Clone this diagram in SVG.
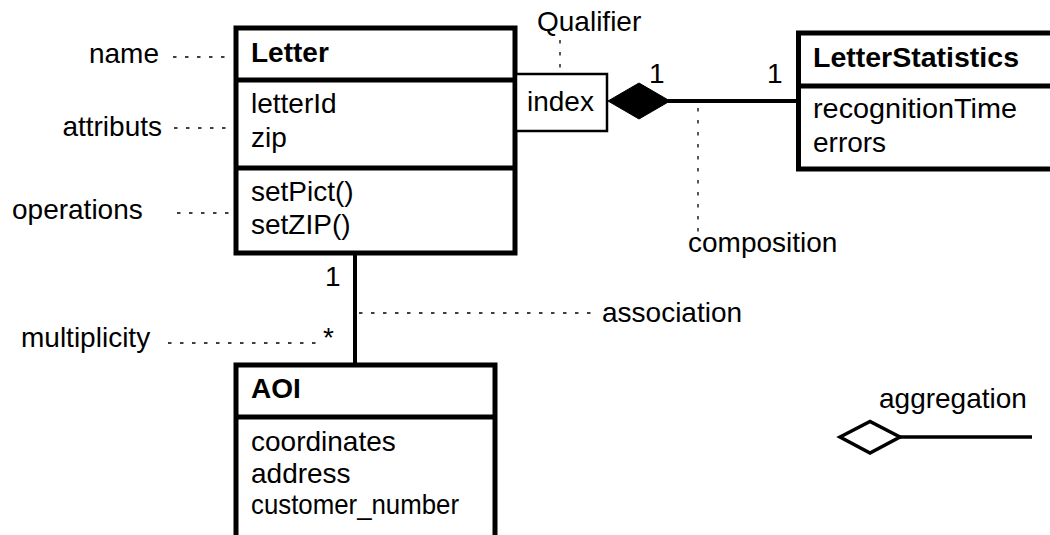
<svg xmlns="http://www.w3.org/2000/svg" width="1050" height="535" viewBox="0 0 1050 535">
<style>
text{font-family:"Liberation Sans",Arial,sans-serif;font-size:28px;fill:#000}
.b{font-weight:bold}
.box{fill:#fff;stroke:#000;stroke-width:5}
.div{stroke:#000;stroke-width:5}
.ln{stroke:#000;stroke-width:4;fill:none}
.dot{stroke:#000;stroke-width:1.3;stroke-dasharray:3.5 8.5;fill:none}
</style>
<rect width="1050" height="535" fill="#fff"/>
<g id="connectors">
<line class="ln" x1="355" y1="253" x2="355" y2="365"/>
<line class="ln" x1="668" y1="101" x2="798" y2="101"/>
<polygon points="608,101 639,83 670,101 639,119" fill="#000" stroke="#000" stroke-width="1"/>
<text x="649" y="83">1</text>
<text x="767" y="83">1</text>
<text x="325" y="286">1</text>
<text x="323" y="347">*</text>
</g>
<g id="annotations">
<text x="159" y="63" text-anchor="end">name</text>
<line class="dot" x1="173" y1="57" x2="226" y2="57"/>
<text x="162" y="136" text-anchor="end">attributs</text>
<line class="dot" x1="174" y1="128" x2="227" y2="128"/>
<text x="12" y="219">operations</text>
<line class="dot" x1="177" y1="213" x2="230" y2="213"/>
<text x="21" y="347">multiplicity</text>
<line class="dot" x1="168" y1="343" x2="320" y2="343"/>
<text x="537" y="31">Qualifier</text>
<line class="dot" x1="560" y1="40" x2="560" y2="92"/>
<text x="688" y="252">composition</text>
<line class="dot" x1="698" y1="108" x2="698" y2="238"/>
<text x="602" y="322">association</text>
<line class="dot" x1="359" y1="313" x2="595" y2="313"/>
</g>
<g id="aggregation">
<text x="879" y="408">aggregation</text>
<polygon points="840,437 870,421.5 900,437 870,453" fill="#fff" stroke="#000" stroke-width="3.5"/>
<line x1="900" y1="437" x2="1032" y2="437" stroke="#000" stroke-width="3.5"/>
</g>
<g id="Letter">
<rect class="box" x="236" y="28" width="279" height="225"/>
<line class="div" x1="236" y1="80" x2="515" y2="80"/>
<line class="div" x1="236" y1="168" x2="515" y2="168"/>
<text class="b" x="251" y="62">Letter</text>
<text x="251" y="113">letterId</text>
<text x="251" y="147">zip</text>
<text x="251" y="201">setPict()</text>
<text x="251" y="234">setZIP()</text>
</g>
<g id="index">
<rect x="516" y="74" width="91" height="57" fill="#fff" stroke="#000" stroke-width="2.5"/>
<text x="527" y="111">index</text>
</g>
<g id="LetterStatistics">
<rect class="box" x="798.5" y="33" width="270" height="136"/>
<line class="div" x1="798.5" y1="86" x2="1060" y2="86"/>
<text class="b" x="813" y="67" textLength="206" lengthAdjust="spacingAndGlyphs">LetterStatistics</text>
<text x="813" y="118" textLength="204" lengthAdjust="spacingAndGlyphs">recognitionTime</text>
<text x="813" y="152">errors</text>
</g>
<g id="AOI">
<rect class="box" x="236" y="365" width="259" height="190"/>
<line class="div" x1="236" y1="417" x2="495" y2="417"/>
<text class="b" x="251" y="398">AOI</text>
<text x="251" y="451">coordinates</text>
<text x="251" y="483">address</text>
<text x="251" y="514" textLength="208" lengthAdjust="spacingAndGlyphs">customer_number</text>
</g>
</svg>
